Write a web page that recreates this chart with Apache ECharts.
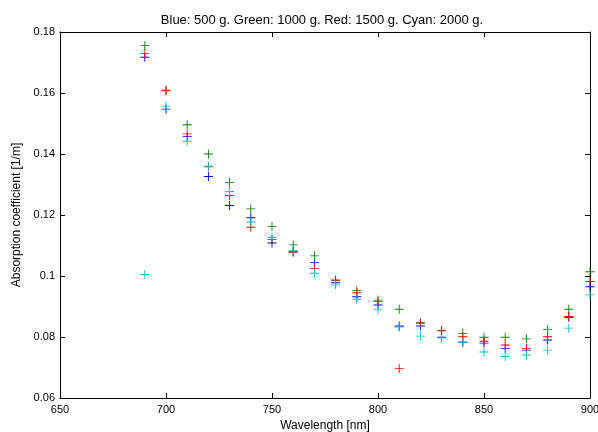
<!DOCTYPE html>
<html><head><meta charset="utf-8">
<script src="https://cdn.jsdelivr.net/npm/echarts@6/dist/echarts.min.js"></script>
<style>html,body{margin:0;padding:0;background:#fff}#c{width:598px;height:432px}</style>
</head><body><div id="c"></div>
<script>
const wavelengths = [690,700,710,720,730,740,750,760,770,780,790,800,810,820,830,840,850,860,870,880,890,900];
const blue  = [0.1717,0.1547,0.1457,0.1326,0.1231,0.1191,0.1108,0.1080,0.1044,0.0978,0.0932,0.0905,0.0836,0.0836,0.0799,0.0783,0.0780,0.0762,0.0757,0.0790,0.0865,0.0965];
const green = [0.1756,0.1607,0.1496,0.1400,0.1307,0.1220,0.1162,0.1102,0.1066,0.0985,0.0952,0.0921,0.0891,0.0847,0.0821,0.0812,0.0799,0.0799,0.0794,0.0825,0.0891,0.1014];
const red   = [0.1729,0.1609,0.1466,0.1358,0.1264,0.1160,0.1120,0.1078,0.1025,0.0987,0.0945,0.0916,0.0697,0.0845,0.0820,0.0801,0.0786,0.0774,0.0762,0.0801,0.0867,0.0982];
const cyan  = [0.1005,0.1557,0.1442,0.1360,0.1277,0.1177,0.1127,0.1083,0.1009,0.0971,0.0924,0.0889,0.0833,0.0803,0.0797,0.0783,0.0751,0.0736,0.0741,0.0757,0.0829,0.0938];
const seriesNames = ['Blue','Green','Red','Cyan'];
const seriesColors = ['#0000ff','#008000','#ff0000','#00bfbf'];
const seriesData = [blue, green, red, cyan];
const titleText = 'Blue: 500 g. Green: 1000 g. Red: 1500 g. Cyan: 2000 g.';

const plus = 'path://M4.5,0h1v10h-1z M0,4.5h10v1h-10z';
const font = 'Liberation Sans, Arial, sans-serif';
const chart = echarts.init(document.getElementById('c'), null, {renderer:'canvas'});
const axisCommon = {
  axisLine:{show:true,onZero:false,lineStyle:{color:'#000',width:1}},
  axisTick:{show:true,inside:true,length:5,lineStyle:{color:'#000'}},
  splitLine:{show:false}
};
chart.setOption({
  animation:false,
  backgroundColor:'#fff',
  title:{text:titleText,left:317,top:9,textAlign:'center',
    textStyle:{fontFamily:font,fontSize:13,fontWeight:'normal',color:'#000'}},
  grid:{left:60,right:8,top:32,bottom:34,containLabel:false,outerBoundsMode:'none'},
  xAxis:[
    Object.assign({type:'value',min:650,max:900,interval:50,position:'bottom',
      name:'Wavelength [nm]',nameLocation:'middle',nameGap:21,
      nameTextStyle:{fontFamily:font,fontSize:12,color:'#000'},
      axisLabel:{fontFamily:font,fontSize:11,color:'#000',margin:6}},axisCommon),
    Object.assign({type:'value',min:650,max:900,interval:50,position:'top',axisLabel:{show:false}},axisCommon)
  ],
  yAxis:[
    Object.assign({type:'value',min:0.06,max:0.18,interval:0.02,position:'left',
      name:'Absorption coefficient [1/m]',nameLocation:'middle',nameGap:32,
      nameTextStyle:{fontFamily:font,fontSize:12,color:'#000'},
      axisLabel:{fontFamily:font,fontSize:11,color:'#000',margin:5,
        formatter:v=>String(parseFloat(v.toFixed(2)))}},axisCommon),
    Object.assign({type:'value',min:0.06,max:0.18,interval:0.02,position:'right',axisLabel:{show:false}},axisCommon)
  ],
  series: seriesData.map((d,i)=>({
    type:'scatter',name:seriesNames[i],
    data:wavelengths.map((w,j)=>[w,d[j]]),
    symbol:plus,symbolSize:9,
    itemStyle:{color:seriesColors[i],opacity:1},
    clip:false
  }))
});
</script></body></html>
